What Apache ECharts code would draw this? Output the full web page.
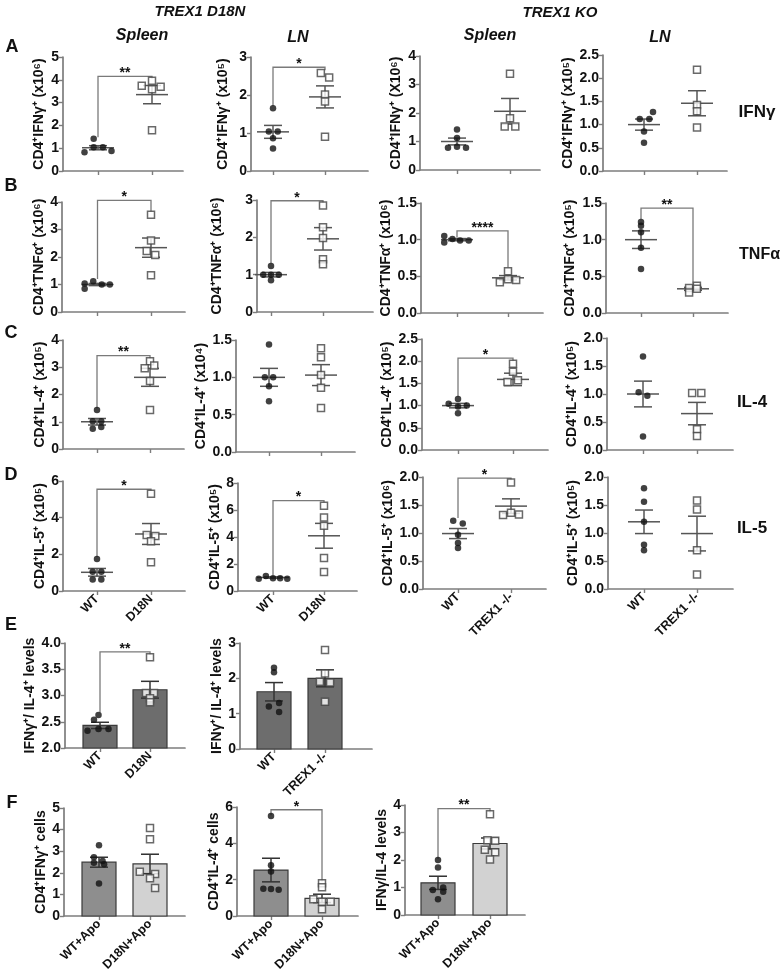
<!DOCTYPE html>
<html><head><meta charset="utf-8">
<script src="https://cdn.jsdelivr.net/npm/echarts@6/dist/echarts.min.js"></script>
<style>html,body{margin:0;padding:0;background:#fff}#c{width:781px;height:975px}</style>
</head><body><div id="c"></div><script>
// ---------------- DATA ----------------
const xLabelsD18N = ['WT', 'D18N'];
const xLabelsKO = ['WT', 'TREX1 -/-'];
const xLabelsApo = ['WT+Apo', 'D18N+Apo'];

// Row A : IFNγ
const A1_wt = [0.82, 1.04, 1.04, 0.88, 1.41], A1_wtJit = [-0.25, -0.08, 0.09, 0.25, -0.08];
const A1_mt = [3.74, 3.96, 3.70, 3.59, 1.79], A1_mtJit = [-0.19, 0, 0.16, 0, 0];
const A1_mean = [1.02, 3.35], A1_sem = [0.09, 0.40], A1_sig = [1.48, 4.15, 4.05, '**'];

const A2_wt = [1.65, 1.04, 1.04, 0.86, 0.59], A2_wtJit = [0, -0.08, 0.09, 0, 0];
const A2_mt = [2.58, 2.46, 2.01, 1.83, 0.90], A2_mtJit = [-0.08, 0.08, 0, 0, 0];
const A2_mean = [1.03, 1.95], A2_sem = [0.17, 0.29], A2_sig = [1.72, 2.73, 2.65, '*'];

const A3_wt = [1.42, 1.12, 0.78, 0.82, 0.78], A3_wtJit = [0, 0, -0.17, 0, 0.17];
const A3_mt = [3.38, 1.82, 1.53, 1.53], A3_mtJit = [0, 0, -0.1, 0.1];
const A3_mean = [1.0, 2.06], A3_sem = [0.12, 0.45], A3_sig = null;

const A4_wt = [1.27, 1.12, 1.12, 0.85, 0.61], A4_wtJit = [0.17, -0.08, 0.1, 0, 0];
const A4_mt = [2.18, 1.42, 1.29, 0.94], A4_mtJit = [0, 0, 0, 0];
const A4_mean = [1.0, 1.46], A4_sem = [0.12, 0.27], A4_sig = null;

// Row B : TNFα
const B1_wt = [1.04, 1.12, 1.0, 1.0, 0.85], B1_wtJit = [-0.24, -0.08, 0.08, 0.23, -0.24];
const B1_mt = [3.54, 2.60, 2.22, 2.07, 1.34], B1_mtJit = [0, 0, -0.08, 0.08, 0];
const B1_mean = [1.0, 2.34], B1_sem = [0.04, 0.35], B1_sig = [1.2, 4.06, 3.65, '*'];

const B2_wt = [1.23, 1.0, 1.0, 1.0, 0.85], B2_wtJit = [0, -0.15, 0, 0.15, 0];
const B2_mt = [2.85, 2.27, 1.98, 1.41, 1.28], B2_mtJit = [0, 0, 0, 0, 0];
const B2_mean = [1.0, 1.96], B2_sem = [0.06, 0.30], B2_sig = [1.3, 2.98, 2.92, '*'];

const B3_wt = [1.05, 1.01, 0.99, 0.99, 0.96], B3_wtJit = [-0.25, -0.09, 0.06, 0.23, -0.25];
const B3_mt = [0.57, 0.42, 0.46, 0.45], B3_mtJit = [0, -0.16, 0, 0.16];
const B3_mean = [1.0, 0.48], B3_sem = [0.015, 0.03], B3_sig = [1.03, 1.12, 0.62, '****'];

const B4_wt = [1.24, 1.19, 1.10, 0.89, 0.60], B4_wtJit = [0, 0, 0, 0, 0];
const B4_mt = [0.34, 0.28, 0.37, 0.33], B4_mtJit = [-0.075, -0.075, 0.075, 0.075];
const B4_mean = [1.0, 0.33], B4_sem = [0.12, 0.02], B4_sig = [1.28, 1.43, 0.4, '**'];

// Row C : IL-4
const C1_wt = [1.43, 1.02, 1.02, 0.74, 0.81], C1_wtJit = [0, -0.08, 0.08, -0.08, 0.08];
const C1_mt = [3.22, 3.06, 2.96, 2.50, 1.43], C1_mtJit = [0, 0.08, -0.1, 0, 0];
const C1_mean = [1.0, 2.63], C1_sem = [0.12, 0.33], C1_sig = [1.5, 3.43, 3.32, '**'];

const C2_wt = [1.44, 1.0, 1.0, 0.88, 0.68], C2_wtJit = [0, -0.08, 0.08, 0, 0];
const C2_mt = [1.39, 1.27, 1.03, 0.86, 0.59], C2_mtJit = [0, 0, 0, 0, 0];
const C2_mean = [1.0, 1.03], C2_sem = [0.12, 0.14], C2_sig = null;

const C3_wt = [1.15, 1.04, 0.98, 1.0, 0.83], C3_wtJit = [0, -0.17, 0, 0.16, 0];
const C3_mt = [1.94, 1.76, 1.53, 1.57], C3_mtJit = [0, 0, -0.1, 0.09];
const C3_mean = [1.0, 1.59], C3_sem = [0.05, 0.14], C3_sig = [1.2, 2.07, 2.0, '*'];

const C4_wt = [1.67, 1.03, 0.97, 0.24], C4_wtJit = [0, -0.08, 0.08, 0];
const C4_mt = [1.02, 1.02, 0.37, 0.25], C4_mtJit = [-0.09, 0.08, 0, 0];
const C4_mean = [1.0, 0.65], C4_sem = [0.23, 0.20], C4_sig = null;

// Row D : IL-5
const D1_wt = [1.75, 1.05, 1.05, 0.63, 0.63], D1_wtJit = [0, -0.08, 0.08, -0.08, 0.08];
const D1_mt = [5.30, 3.05, 3.00, 2.71, 1.57], D1_mtJit = [0, -0.08, 0.08, 0, 0];
const D1_mean = [1.02, 3.11], D1_sem = [0.21, 0.57], D1_sig = [1.85, 5.55, 5.45, '*'];

const D2_wt = [0.90, 1.12, 0.95, 0.95, 0.90], D2_wtJit = [-0.28, -0.14, 0, 0.14, 0.28];
const D2_mt = [6.32, 5.45, 4.83, 2.45, 1.41], D2_mtJit = [0, 0, 0, 0, 0];
const D2_mean = [1.0, 4.09], D2_sem = [0.05, 0.92], D2_sig = [1.15, 6.7, 6.55, '*'];

const D3_wt = [1.22, 1.17, 0.97, 0.82, 0.73], D3_wtJit = [-0.09, 0.09, 0, 0, 0];
const D3_mt = [1.90, 1.32, 1.36, 1.33], D3_mtJit = [0, -0.15, 0, 0.15];
const D3_mean = [0.99, 1.48], D3_sem = [0.09, 0.13], D3_sig = [1.27, 1.98, 1.94, '*'];

const D4_wt = [1.80, 1.56, 1.20, 0.79, 0.69], D4_wtJit = [0, 0, 0, 0, 0];
const D4_mt = [1.58, 1.42, 0.69, 0.26], D4_mtJit = [0, 0, 0, 0];
const D4_mean = [1.2, 0.99], D4_sem = [0.21, 0.31], D4_sig = null;

// Row E : IFNγ/IL-4 ratio (bars)
const E1_wt = [2.63, 2.54, 2.33, 2.36, 2.36], E1_wtJit = [-0.03, -0.12, -0.25, -0.03, 0.17];
const E1_mt = [3.73, 3.05, 3.05, 2.95, 2.87], E1_mtJit = [0, -0.08, 0.08, 0, 0];
const E1_mean = [2.43, 3.11], E1_sem = [0.06, 0.16], E1_sig = [2.68, 3.83, 3.77, '**'];

const E2_wt = [2.30, 2.17, 1.30, 1.20, 1.05], E2_wtJit = [0, 0, 0.1, -0.1, 0.1];
const E2_mt = [2.80, 2.14, 1.90, 1.88, 1.34], E2_mtJit = [0, 0, -0.1, 0.1, 0];
const E2_mean = [1.62, 2.0], E2_sem = [0.26, 0.24], E2_sig = null;

// Row F : +Apo (bars)
const F1_wt = [3.27, 2.72, 2.47, 2.55, 2.40, 1.51], F1_wtJit = [0, -0.1, -0.1, 0.07, 0.1, 0];
const F1_mt = [4.07, 3.55, 2.05, 1.95, 1.75, 1.30], F1_mtJit = [0, 0, -0.2, 0.1, 0, 0.1];
const F1_mean = [2.49, 2.41], F1_sem = [0.23, 0.45], F1_sig = null;

const F2_wt = [5.50, 2.80, 2.45, 1.50, 1.45, 1.48], F2_wtJit = [0, 0, 0, -0.15, 0.15, 0];
const F2_mt = [1.80, 1.58, 0.92, 0.79, 0.79, 0.37], F2_mtJit = [0, 0, -0.17, 0, 0.17, 0];
const F2_mean = [2.53, 0.97], F2_sem = [0.65, 0.23], F2_sig = [5.55, 5.85, 1.9, '*'];

const F3_wt = [2.00, 1.73, 0.91, 1.00, 0.85, 0.57], F3_wtJit = [0, 0, -0.1, 0.1, 0.1, 0];
const F3_mt = [3.66, 2.72, 2.70, 2.37, 2.28, 2.02], F3_mtJit = [0, -0.05, 0.1, -0.1, 0.1, 0];
const F3_mean = [1.17, 2.6], F3_sem = [0.24, 0.2], F3_sig = [2.05, 3.87, 3.72, '**'];

const yNames = {
  A1: 'CD4⁺IFNγ⁺ (x10⁶)', A2: 'CD4⁺IFNγ⁺ (x10⁵)', A3: 'CD4⁺IFNγ⁺ (X10⁶)', A4: 'CD4⁺IFNγ⁺ (x10⁵)',
  B1: 'CD4⁺TNFα⁺ (x10⁶)', B2: 'CD4⁺TNFα⁺ (x10⁶)', B3: 'CD4⁺TNFα⁺ (x10⁶)', B4: 'CD4⁺TNFα⁺ (x10⁵)',
  C1: 'CD4⁺IL-4⁺ (x10⁵)', C2: 'CD4⁺IL-4⁺ (x10⁴)', C3: 'CD4⁺IL-4⁺ (x10⁵)', C4: 'CD4⁺IL-4⁺ (x10⁵)',
  D1: 'CD4⁺IL-5⁺ (x10⁵)', D2: 'CD4⁺IL-5⁺ (x10⁵)', D3: 'CD4⁺IL-5⁺ (x10⁶)', D4: 'CD4⁺IL-5⁺ (x10⁵)',
  E1: 'IFNγ⁺/ IL-4⁺ levels', E2: 'IFNγ⁺/ IL-4⁺ levels',
  F1: 'CD4⁺IFNγ⁺ cells', F2: 'CD4⁺IL-4⁺ cells', F3: 'IFNγ/IL-4 levels'
};
const yRanges = {
  A1: [0, 5, 1], A2: [0, 3, 1], A3: [0, 4, 1], A4: [0, 2.5, 0.5],
  B1: [0, 4, 1], B2: [0, 3, 1], B3: [0, 1.5, 0.5], B4: [0, 1.5, 0.5],
  C1: [0, 4, 1], C2: [0, 1.5, 0.5], C3: [0, 2.5, 0.5], C4: [0, 2.0, 0.5],
  D1: [0, 6, 2], D2: [0, 8, 2], D3: [0, 2.0, 0.5], D4: [0, 2.0, 0.5],
  E1: [2.0, 4.0, 0.5], E2: [0, 3, 1],
  F1: [0, 5, 1], F2: [0, 6, 2], F3: [0, 4, 1]
};

// ---------------- LAYOUT (pixels / styles) ----------------
const DATA = {
  A1:[A1_wt,A1_wtJit,A1_mt,A1_mtJit,A1_mean,A1_sem,A1_sig], A2:[A2_wt,A2_wtJit,A2_mt,A2_mtJit,A2_mean,A2_sem,A2_sig],
  A3:[A3_wt,A3_wtJit,A3_mt,A3_mtJit,A3_mean,A3_sem,A3_sig], A4:[A4_wt,A4_wtJit,A4_mt,A4_mtJit,A4_mean,A4_sem,A4_sig],
  B1:[B1_wt,B1_wtJit,B1_mt,B1_mtJit,B1_mean,B1_sem,B1_sig], B2:[B2_wt,B2_wtJit,B2_mt,B2_mtJit,B2_mean,B2_sem,B2_sig],
  B3:[B3_wt,B3_wtJit,B3_mt,B3_mtJit,B3_mean,B3_sem,B3_sig], B4:[B4_wt,B4_wtJit,B4_mt,B4_mtJit,B4_mean,B4_sem,B4_sig],
  C1:[C1_wt,C1_wtJit,C1_mt,C1_mtJit,C1_mean,C1_sem,C1_sig], C2:[C2_wt,C2_wtJit,C2_mt,C2_mtJit,C2_mean,C2_sem,C2_sig],
  C3:[C3_wt,C3_wtJit,C3_mt,C3_mtJit,C3_mean,C3_sem,C3_sig], C4:[C4_wt,C4_wtJit,C4_mt,C4_mtJit,C4_mean,C4_sem,C4_sig],
  D1:[D1_wt,D1_wtJit,D1_mt,D1_mtJit,D1_mean,D1_sem,D1_sig], D2:[D2_wt,D2_wtJit,D2_mt,D2_mtJit,D2_mean,D2_sem,D2_sig],
  D3:[D3_wt,D3_wtJit,D3_mt,D3_mtJit,D3_mean,D3_sem,D3_sig], D4:[D4_wt,D4_wtJit,D4_mt,D4_mtJit,D4_mean,D4_sem,D4_sig],
  E1:[E1_wt,E1_wtJit,E1_mt,E1_mtJit,E1_mean,E1_sem,E1_sig], E2:[E2_wt,E2_wtJit,E2_mt,E2_mtJit,E2_mean,E2_sem,E2_sig],
  F1:[F1_wt,F1_wtJit,F1_mt,F1_mtJit,F1_mean,F1_sem,F1_sig], F2:[F2_wt,F2_wtJit,F2_mt,F2_mtJit,F2_mean,F2_sem,F2_sig],
  F3:[F3_wt,F3_wtJit,F3_mt,F3_mtJit,F3_mean,F3_sem,F3_sig]
};

const LAYOUT = {
  A1:{left:63, right:183, c1:98, c2:152, top:57, bottom:171, dec:0, gap:17},
  A2:{left:251, right:368, c1:273, c2:325, top:57, bottom:171, dec:0, gap:21},
  A3:{left:420, right:540, c1:457, c2:510, top:56, bottom:170, dec:0, gap:17},
  A4:{left:603, right:727, c1:644, c2:697, top:55, bottom:171, dec:1, gap:16},
  B1:{left:62, right:185, c1:97.5, c2:151, top:202, bottom:312, dec:0, gap:16},
  B2:{left:257, right:373, c1:271, c2:323, top:200, bottom:312, dec:0, gap:33},
  B3:{left:421, right:543, c1:457, c2:508, top:203, bottom:313, dec:1, gap:23},
  B4:{left:606, right:728, c1:641, c2:693, top:203, bottom:313, dec:1, gap:29},
  C1:{left:63, right:184, c1:97, c2:150, top:340, bottom:449, dec:0, gap:15},
  C2:{left:236, right:355, c1:269, c2:321, top:340, bottom:452, dec:1, gap:21},
  C3:{left:422, right:548, c1:458, c2:513, top:339, bottom:450, dec:1, gap:25},
  C4:{left:607, right:733, c1:643, c2:697, top:338, bottom:450, dec:1, gap:25},
  D1:{left:63, right:185, c1:97, c2:151, top:481, bottom:591, dec:0, gap:13, xl:xLabelsD18N},
  D2:{left:238, right:357, c1:273, c2:324, top:483, bottom:591, dec:0, gap:13, xl:xLabelsD18N},
  D3:{left:423, right:546, c1:458, c2:511, top:477, bottom:589, dec:1, gap:25, xl:xLabelsKO},
  D4:{left:608, right:733, c1:644, c2:697, top:477, bottom:589, dec:1, gap:25, xl:xLabelsKO},
  E1:{left:65, right:185, c1:100, c2:150, top:643, bottom:748, dec:1, gap:27, xl:xLabelsD18N, bar:['#6d6d6d','#6d6d6d']},
  E2:{left:240, right:372, c1:274, c2:325, top:643, bottom:749, dec:0, gap:15, xl:xLabelsKO, bar:['#6d6d6d','#6d6d6d']},
  F1:{left:64, right:185, c1:99, c2:150, top:808, bottom:916, dec:0, gap:16, xl:xLabelsApo, bar:['#8e8e8e','#d2d2d2']},
  F2:{left:237, right:358, c1:271, c2:322, top:807, bottom:916, dec:0, gap:13, xl:xLabelsApo, bar:['#8e8e8e','#d2d2d2']},
  F3:{left:405, right:525, c1:438, c2:490, top:805, bottom:915, dec:0, gap:12, xl:xLabelsApo, bar:['#8e8e8e','#d2d2d2']}
};

const FONT = '"Liberation Sans", Arial, Helvetica, sans-serif';
const AX = '#7d7d7d';
const TXT = '#111';
const grid = [], xAxis = [], yAxis = [], series = [];

function errRender(meanHalf, capHalf, color) {
  return function (params, api) {
    const x = api.value(0), m = api.value(1), s = api.value(2);
    const pm = api.coord([x, m]), pu = api.coord([x, m + s]), pl = api.coord([x, m - s]);
    const st = { stroke: color, lineWidth: 1.5 };
    const ch = [];
    if (meanHalf > 0) ch.push({ type: 'line', shape: { x1: pm[0] - meanHalf, y1: pm[1], x2: pm[0] + meanHalf, y2: pm[1] }, style: st });
    ch.push({ type: 'line', shape: { x1: pu[0], y1: pu[1], x2: pl[0], y2: pl[1] }, style: st });
    ch.push({ type: 'line', shape: { x1: pu[0] - capHalf, y1: pu[1], x2: pu[0] + capHalf, y2: pu[1] }, style: st });
    ch.push({ type: 'line', shape: { x1: pl[0] - capHalf, y1: pl[1], x2: pl[0] + capHalf, y2: pl[1] }, style: st });
    return { type: 'group', children: ch };
  };
}
function barRender(colors, base, half) {
  return function (params, api) {
    const x = api.value(0), v = api.value(1);
    const p0 = api.coord([x, base]), p1 = api.coord([x, v]);
    return { type: 'rect', shape: { x: p0[0] - half, y: p1[1], width: half * 2, height: p0[1] - p1[1] },
      style: { fill: colors[params.dataIndex], stroke: '#3a3a3a', lineWidth: 1.2 } };
  };
}
function sigRender(label) {
  return function (params, api) {
    const p1 = api.coord([api.value(0), api.value(2)]);
    const p2 = api.coord([api.value(0), api.value(3)]);
    const p3 = api.coord([api.value(1), api.value(3)]);
    const p4 = api.coord([api.value(1), api.value(4)]);
    return { type: 'group', children: [
      { type: 'polyline', shape: { points: [p1, p2, p3, p4] }, style: { stroke: '#7a7a7a', lineWidth: 1.3, fill: null } },
      { type: 'text', x: (p2[0] + p3[0]) / 2, y: p2[1] - 3,
        style: { text: label, fill: TXT, font: 'bold 14px ' + FONT, align: 'center', verticalAlign: 'middle', textAlign: 'center', textVerticalAlign: 'middle' } }
    ] };
  };
}

Object.keys(LAYOUT).forEach(function (key) {
  const L = LAYOUT[key];
  const [wt, wj, mt, mj, mean, sem, sig] = DATA[key];
  const [ymin, ymax, yint] = yRanges[key];
  const idx = grid.length;
  const unit = L.c2 - L.c1;
  const xmin = 1 - (L.c1 - L.left) / unit, xmax = 1 + (L.right - L.c1) / unit;
  const xl = L.xl;
  grid.push({ left: L.left, top: L.top, width: L.right - L.left, height: L.bottom - L.top, containLabel: false });
  xAxis.push({ gridIndex: idx, type: 'value', min: xmin, max: xmax,
    axisLine: { show: true, onZero: false, lineStyle: { color: AX, width: 1.7 } },
    axisTick: { show: true, customValues: [1, 2], length: 4, lineStyle: { color: AX, width: 1.4 } },
    axisLabel: { show: !!xl, customValues: [1, 2], rotate: 45, margin: 6, color: TXT, fontFamily: FONT,
      fontWeight: 'bold', fontSize: 12.5, formatter: function (v) { return xl ? xl[Math.round(v) - 1] : ''; } },
    splitLine: { show: false } });
  yAxis.push({ gridIndex: idx, type: 'value', min: ymin, max: ymax, interval: yint,
    name: yNames[key], nameLocation: 'middle', nameRotate: 90, nameGap: L.gap,
    nameTextStyle: { color: TXT, fontFamily: FONT, fontWeight: 'bold', fontSize: 14 },
    axisLine: { show: true, lineStyle: { color: AX, width: 1.7 } },
    axisTick: { show: true, length: 4, lineStyle: { color: AX, width: 1.4 } },
    axisLabel: { color: TXT, fontFamily: FONT, fontWeight: 'bold', fontSize: 14, margin: 4,
      formatter: function (v) { return v.toFixed(L.dec); } },
    splitLine: { show: false } });
  const ax = { xAxisIndex: idx, yAxisIndex: idx };
  if (L.bar) {
    series.push(Object.assign({ type: 'custom', renderItem: barRender(L.bar, ymin, 17), z: 1,
      encode: { x: 0, y: 1 }, data: mean.map(function (m, i) { return [i + 1, m]; }) }, ax));
  }
  series.push(Object.assign({ type: 'custom', renderItem: errRender(L.bar ? 0 : 16, 9, L.bar ? '#333' : '#555'),
    z: 3, encode: { x: 0, y: 1 }, data: mean.map(function (m, i) { return [i + 1, m, sem[i]]; }) }, ax));
  series.push(Object.assign({ type: 'scatter', symbol: 'circle', symbolSize: 6.5, z: 4,
    itemStyle: { color: '#111' }, data: wt.map(function (v, i) { return [1 + wj[i], v]; }) }, ax));
  series.push(Object.assign({ type: 'scatter', symbol: 'rect', symbolSize: 7, z: 4,
    itemStyle: { color: '#fff', borderColor: '#444', borderWidth: 1.5 },
    data: mt.map(function (v, i) { return [2 + mj[i], v]; }) }, ax));
  if (sig) {
    series.push(Object.assign({ type: 'custom', renderItem: sigRender(sig[3]), z: 2,
      encode: { x: [0, 1], y: [2, 3, 4] }, data: [[1, 2, sig[0], sig[1], sig[2]]] }, ax));
  }
});

function txt(t, x, y, font, align) {
  return { type: 'text', x: x, y: y, silent: true,
    style: { text: t, font: font, fill: TXT, align: align || 'center', verticalAlign: 'middle', textAlign: align || 'center', textVerticalAlign: 'middle' } };
}
const BI15 = 'italic bold 15px ' + FONT, BI16 = 'italic bold 16px ' + FONT, B18 = 'bold 18px ' + FONT, B17 = 'bold 17px ' + FONT;
const graphic = [
  txt('TREX1 D18N', 200, 12, BI15), txt('TREX1 KO', 560, 13, BI15),
  txt('Spleen', 142, 36, BI16), txt('LN', 298, 38, BI16), txt('Spleen', 490, 36, BI16), txt('LN', 660, 38, BI16),
  txt('A', 12, 47, B18), txt('B', 11, 186, B18), txt('C', 11, 333, B18), txt('D', 11, 475, B18),
  txt('E', 11, 625, B18), txt('F', 12, 803, B18),
  txt('IFNγ', 757, 112, B17), txt('TNFα', 780, 255, 'bold 16px ' + FONT, 'right'),
  txt('IL-4', 752, 402, B17), txt('IL-5', 752, 528, B17)
];

const chart = echarts.init(document.getElementById('c'), null, { renderer: 'canvas' });
chart.setOption({ animation: false, backgroundColor: '#fff', grid: grid, xAxis: xAxis, yAxis: yAxis, series: series, graphic: graphic });
</script></body></html>
